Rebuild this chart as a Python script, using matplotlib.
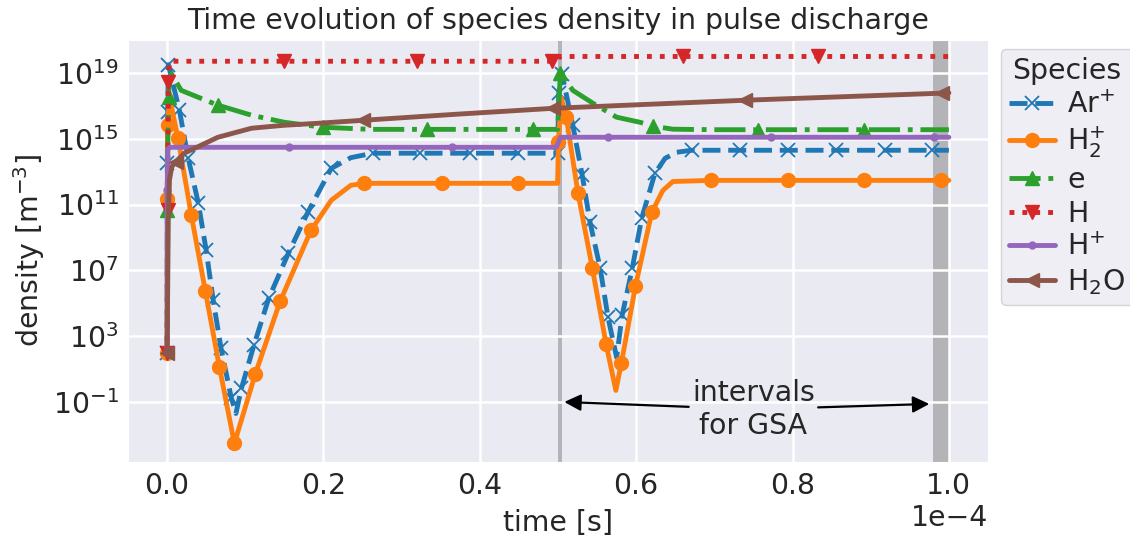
import numpy as np
import matplotlib
matplotlib.use("Agg")
import matplotlib.pyplot as plt
import seaborn as sns

# ---------------- data (time in units of 1e-4 s, log10 density in m^-3) ----------------
species = ["Ar$^{+}$", "H$_2^{+}$", "e", "H", "H$^{+}$", "H$_2$O"]

t_ar = [0.0, 0.0003, 0.0008, 0.0015, 0.0157, 0.027, 0.040, 0.050, 0.059, 0.069, 0.082, 0.088,
        0.095, 0.111, 0.130, 0.155, 0.180, 0.210, 0.235, 0.263, 0.324, 0.387, 0.449, 0.4995,
        0.501, 0.505, 0.519, 0.531, 0.541, 0.554, 0.564, 0.575, 0.582, 0.595, 0.607, 0.624,
        0.637, 0.652, 0.671, 0.733, 0.794, 0.856, 0.918, 0.979, 1.0]
y_ar = [1.95, 13.5, 16.6, 19.5, 16.73, 13.81, 11.07, 8.21, 5.17, 2.25, -0.73, -1.70,
        -0.18, 2.44, 5.30, 8.03, 10.53, 13.20, 13.85, 14.12, 14.12, 14.12, 14.12, 14.12,
        17.77, 18.95, 15.82, 12.78, 9.92, 7.12, 4.14, 1.71, 4.26, 7.12, 10.16, 12.90,
        13.81, 14.18, 14.30, 14.30, 14.30, 14.30, 14.30, 14.30, 14.30]

t_h2p = [0.0, 0.0002, 0.0005, 0.003, 0.014, 0.031, 0.049, 0.067, 0.086, 0.113, 0.1445,
         0.184, 0.210, 0.235, 0.252, 0.351, 0.449, 0.4995, 0.5005, 0.504, 0.5106, 0.5256,
         0.544, 0.5616, 0.574, 0.581, 0.599, 0.620, 0.634, 0.647, 0.696, 0.794, 0.892,
         0.990, 1.0]
y_h2p = [1.95, 11.32, 15.82, 17.52, 15.03, 10.34, 5.72, 1.10, -3.52, 0.73, 5.11,
         9.43, 11.26, 12.17, 12.29, 12.29, 12.29, 12.29, 14.78, 17.5, 16.31, 11.68,
         7.12, 2.50, -0.30, 1.34, 6.02, 10.53, 11.85, 12.40, 12.47, 12.47, 12.47,
         12.47, 12.47]

t_e = [0.0, 0.001, 0.002, 0.003, 0.018, 0.065, 0.108, 0.150, 0.199, 0.26, 0.333, 0.468,
       0.4995, 0.503, 0.519, 0.545, 0.575, 0.605, 0.622, 0.647, 0.70, 0.756, 0.892, 1.0]
y_e = [10.65, 15.0, 17.52, 19.16, 17.94, 17.04, 16.43, 16.00, 15.70, 15.57, 15.57, 15.57,
       15.57, 18.98, 17.94, 17.15, 16.31, 16.00, 15.76, 15.58, 15.55, 15.55, 15.55, 15.55]

t_h = [0.0, 0.0005, 0.0015, 0.003, 0.150, 0.320, 0.4923, 0.4995, 0.502, 0.660, 0.832, 1.0]
y_h = [1.95, 10.65, 18.43, 19.71, 19.71, 19.71, 19.71, 19.71, 20.0, 20.0, 20.0, 20.0]

t_hp = [0.0, 0.0003, 0.0008, 0.003, 0.156, 0.365, 0.498, 0.503, 0.564, 0.772, 0.981, 1.0]
y_hp = [1.95, 11.9, 14.3, 14.48, 14.48, 14.48, 14.48, 15.09, 15.09, 15.09, 15.09, 15.09]

t_h2o = [0.0, 0.0015, 0.003, 0.006, 0.011, 0.022, 0.065, 0.108, 0.150, 0.193, 0.250,
         0.370, 0.494, 0.739, 0.991, 1.0]
y_h2o = [1.95, 10.0, 12.5, 13.3, 13.6, 14.12, 15.09, 15.64, 15.82, 15.94, 16.12,
         16.49, 16.85, 17.34, 17.77, 17.79]

# indices of vertices carrying markers
mk_ar = [0, 1, 2, 3, 4, 5, 6, 7, 8, 9, 10, 12, 13, 14, 15, 16, 17, 19, 20, 21, 22, 23,
         24, 25, 26, 27, 28, 29, 30, 32, 33, 34, 35, 38, 39, 40, 41, 42, 43]
mk_h2p = [0, 1, 2, 4, 5, 6, 7, 8, 9, 10, 11, 14, 15, 16, 18, 20, 21, 22, 23, 25, 26, 27,
          30, 31, 32, 33]
mk_e = [0, 2, 5, 8, 10, 11, 13, 18, 21, 22]
mk_h = [0, 1, 2, 4, 5, 6, 9, 10]
mk_hp = [0, 1, 4, 5, 8, 9, 10]
mk_h2o = [0, 4, 10, 12, 13, 14]

gsa_intervals = [(0.500, 0.505), (0.980, 1.000)]

# ---------------- style ----------------
sns.set_style("darkgrid")
plt.rcParams["font.family"] = ["DejaVu Sans"]
FS = 20.4
plt.rcParams["font.size"] = FS

fig = plt.figure(figsize=(11.30, 5.41), dpi=100)
ax = fig.add_axes([0.1133, 0.146, 0.7610, 0.780])

colors = ["#1f77b4", "#ff7f0e", "#2ca02c", "#d62728", "#9467bd", "#8c564b"]
series = [
    (t_ar, y_ar, mk_ar, "--", "x", 10, 1.3),
    (t_h2p, y_h2p, mk_h2p, "-", "o", 10, 1.0),
    (t_e, y_e, mk_e, "-.", "^", 10, 1.0),
    (t_h, y_h, mk_h, ":", "v", 10, 1.0),
    (t_hp, y_hp, mk_hp, "-", ".", 10, 1.0),
    (t_h2o, y_h2o, mk_h2o, "-", "<", 10, 1.0),
]
for (t, y, mk, ls, m, ms, mew), lab, c in zip(series, species, colors):
    ax.plot(np.array(t) * 1e-4, 10.0 ** np.array(y), ls=ls, lw=3.5, color=c,
            marker=m, ms=ms, mew=mew, markevery=mk, label=lab)

for a, b in gsa_intervals:
    ax.axvspan(a * 1e-4, b * 1e-4, color="gray", alpha=0.5, lw=0, zorder=0.5)

ax.set_yscale("log")
ax.set_xlim(-0.05e-4, 1.05e-4)
ax.set_ylim(10 ** -4.65, 10 ** 21.0)
ax.set_yticks([10.0 ** k for k in (-1, 3, 7, 11, 15, 19)])
ax.yaxis.set_minor_locator(matplotlib.ticker.NullLocator())
ax.set_xticks(np.arange(0, 1.01, 0.2) * 1e-4)
ax.ticklabel_format(axis="x", style="sci", scilimits=(0, 0))
ax.grid(True, which="major", color="white", lw=1.8)
ax.tick_params(labelsize=FS, length=0, pad=7)
ax.xaxis.get_offset_text().set_fontsize(FS)

ax.set_xlabel("time [s]", fontsize=FS, labelpad=7)
ax.set_ylabel("density [m$^{-3}$]", fontsize=FS)
ax.set_title("Time evolution of species density in pulse discharge", fontsize=FS, pad=8)

txt_xy = (0.75e-4, 10 ** -1.45)
ap = dict(arrowstyle="-|>", color="black", lw=1.6, mutation_scale=25, shrinkA=0, shrinkB=0)
ax.annotate("intervals\nfor GSA", xy=(0.508e-4, 10 ** -1.0), xytext=txt_xy,
            ha="center", va="center", fontsize=FS, arrowprops=ap)
ax.annotate("intervals\nfor GSA", xy=(0.975e-4, 10 ** -1.12), xytext=txt_xy,
            ha="center", va="center", fontsize=FS, color="none", arrowprops=ap)

leg = ax.legend(title="Species", loc="upper left", bbox_to_anchor=(1.005, 1.0),
                fontsize=FS, title_fontsize=FS, numpoints=1, borderaxespad=0.3,
                handlelength=1.6, labelspacing=0.2, handletextpad=0.45,
                borderpad=0.3)

fig.savefig("out.png", dpi=100)
